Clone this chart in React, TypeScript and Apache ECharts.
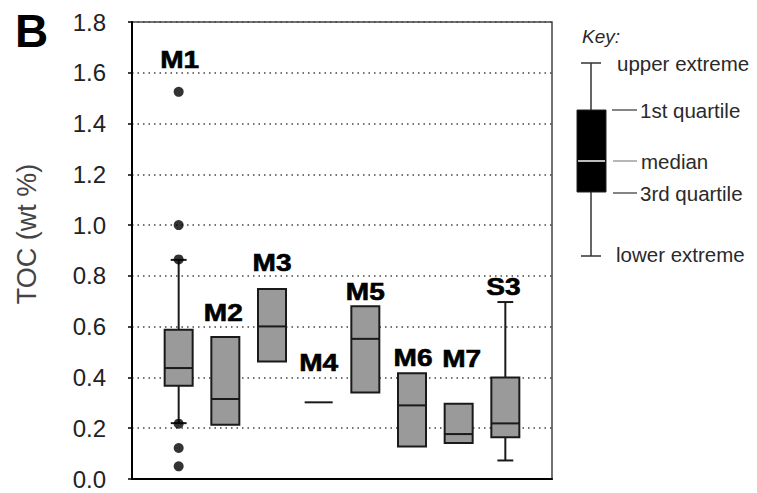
import React, { useEffect, useRef } from "react";
import * as echarts from "echarts";

// Sites along the horizontal axis
const sites = ["M1", "M2", "M3", "M4", "M5", "M6", "M7", "S3"];
// TOC statistics per site (wt %)
const lowerWhisker: (number | null)[] = [0.22, null, null, null, null, null, null, 0.073];
const boxBottom = [0.367, 0.214, 0.463, 0.302, 0.341, 0.128, 0.142, 0.164];
const medians = [0.437, 0.315, 0.601, 0.302, 0.552, 0.29, 0.177, 0.219];
const boxTop = [0.588, 0.559, 0.748, 0.302, 0.68, 0.417, 0.296, 0.4];
const upperWhisker: (number | null)[] = [0.863, null, null, null, null, null, null, 0.697];
// Individual outlying samples
const outlierSite = ["M1", "M1", "M1", "M1", "M1", "M1"];
const outlierToc = [1.525, 1.0, 0.865, 0.218, 0.122, 0.05];
// Y-axis ticks
const yTicks = [0, 0.2, 0.4, 0.6, 0.8, 1.0, 1.2, 1.4, 1.6, 1.8];

// Site label placement: pixel gap above each site's highest mark, and x nudge
const labelGap = [32, 24, 26, 39, 14, 15, 45, 15];
const labelDx = [1, -2, 0, 0, 0, 1, 3, -2];

export default function App() {
  const ref = useRef<HTMLDivElement>(null);

  useEffect(() => {
    if (!ref.current) return;
    const chart = echarts.init(ref.current, null, { renderer: "svg" });

    const boxData = sites.map((s, i) => {
      const outs = outlierToc.filter((_, k) => outlierSite[k] === s);
      const top = Math.max(boxTop[i], upperWhisker[i] ?? boxTop[i], ...outs);
      return [
        i + 1,
        lowerWhisker[i] ?? boxBottom[i],
        boxBottom[i],
        medians[i],
        boxTop[i],
        upperWhisker[i] ?? boxTop[i],
        top,
        i,
      ];
    });

    const outlierData = outlierToc.map((v, k) => [sites.indexOf(outlierSite[k]) + 1, v]);

    const renderItem = (params: any, api: any) => {
      const x = api.value(0);
      const idx = api.value(7);
      const wLo = api.coord([x, api.value(1)]);
      const bLo = api.coord([x, api.value(2)]);
      const med = api.coord([x, api.value(3)]);
      const bHi = api.coord([x, api.value(4)]);
      const wHi = api.coord([x, api.value(5)]);
      const topPt = api.coord([x, api.value(6)]);
      const slot = api.size([1, 0])[0];
      const bw = slot * 0.6;
      const cw = slot * 0.34;
      const cx = bLo[0];
      const stroke = { stroke: "#1a1a1a", lineWidth: 2 };
      const children: any[] = [];
      if (wHi[1] < bHi[1] - 0.5) {
        children.push({ type: "line", shape: { x1: cx, y1: bHi[1], x2: cx, y2: wHi[1] }, style: stroke });
        children.push({ type: "line", shape: { x1: cx - cw / 2, y1: wHi[1], x2: cx + cw / 2, y2: wHi[1] }, style: stroke });
      }
      if (wLo[1] > bLo[1] + 0.5) {
        children.push({ type: "line", shape: { x1: cx, y1: bLo[1], x2: cx, y2: wLo[1] }, style: stroke });
        children.push({ type: "line", shape: { x1: cx - cw / 2, y1: wLo[1], x2: cx + cw / 2, y2: wLo[1] }, style: stroke });
      }
      if (bLo[1] - bHi[1] > 0.5) {
        children.push({
          type: "rect",
          shape: { x: cx - bw / 2, y: bHi[1], width: bw, height: bLo[1] - bHi[1] },
          style: { fill: "#9a9a9a", stroke: "#1a1a1a", lineWidth: 2 },
        });
      }
      children.push({ type: "line", shape: { x1: cx - bw / 2, y1: med[1], x2: cx + bw / 2, y2: med[1] }, style: stroke });
      children.push({
        type: "text",
        x: cx + labelDx[idx],
        y: topPt[1] - labelGap[idx],
        scaleX: 1.22,
        style: {
          text: sites[idx],
          fontFamily: "Liberation Sans, Arial, sans-serif",
          fontWeight: "bold",
          fontSize: 23,
          fill: "#000",
          stroke: "#000",
          lineWidth: 0.6,
          align: "center",
          verticalAlign: "middle",
        },
      });
      return { type: "group", children };
    };

    const txt = { fontFamily: "Liberation Sans, Arial, sans-serif", fill: "#2a2a2a" };

    chart.setOption({
      animation: false,
      grid: {
        left: 132,
        top: 22,
        right: 205,
        bottom: 14,
        show: true,
        borderColor: "#444",
        borderWidth: 1.5,
        backgroundColor: "transparent",
      },
      xAxis: {
        type: "value",
        min: 0,
        max: sites.length + 1,
        axisLine: { show: true, lineStyle: { color: "#000", width: 2 } },
        axisTick: { show: false },
        axisLabel: { show: false },
        splitLine: { show: false },
      },
      yAxis: {
        type: "value",
        min: yTicks[0],
        max: yTicks[yTicks.length - 1],
        interval: 0.2,
        axisLine: { show: true, lineStyle: { color: "#000", width: 2 } },
        axisTick: { show: true, length: 4, lineStyle: { color: "#000", width: 1.5 } },
        axisLabel: {
          margin: 26,
          fontSize: 24,
          fontFamily: "Liberation Sans, Arial, sans-serif",
          color: "#222",
          formatter: (v: number) => v.toFixed(1),
        },
        splitLine: {
          show: true,
          lineStyle: { color: "#444", width: 1.5, type: [1.5, 4] },
        },
      },
      series: [
        {
          type: "custom",
          renderItem,
          data: boxData,
          encode: { x: 0, y: [1, 2, 3, 4, 5] },
          clip: false,
          z: 3,
        },
        {
          type: "scatter",
          data: outlierData,
          symbol: "circle",
          symbolSize: 10,
          itemStyle: { color: "#000" },
          z: 4,
        },
      ],
      graphic: [
        {
          type: "text",
          left: 15,
          top: 8,
          style: { text: "B", fontFamily: "Liberation Sans, Arial, sans-serif", fontWeight: "bold", fontSize: 46, fill: "#000" },
        },
        {
          type: "text",
          x: 27,
          y: 234,
          rotation: Math.PI / 2,
          style: { text: "TOC (wt %)", ...txt, fill: "#444", fontSize: 27, align: "center", verticalAlign: "middle" },
        },
        // Key
        {
          type: "text",
          x: 582,
          y: 36,
          style: { text: "Key:", ...txt, fontStyle: "italic", fontSize: 19, verticalAlign: "middle" },
        },
        { type: "line", shape: { x1: 591, y1: 63, x2: 591, y2: 256 }, style: { stroke: "#333", lineWidth: 1.5 } },
        { type: "line", shape: { x1: 581, y1: 63, x2: 601, y2: 63 }, style: { stroke: "#333", lineWidth: 1.5 } },
        { type: "line", shape: { x1: 581, y1: 256, x2: 601, y2: 256 }, style: { stroke: "#333", lineWidth: 1.5 } },
        { type: "rect", shape: { x: 577, y: 110, width: 29, height: 82 }, style: { fill: "#000", stroke: "#222", lineWidth: 1 } },
        { type: "line", shape: { x1: 578, y1: 161, x2: 605, y2: 161 }, style: { stroke: "#bbb", lineWidth: 2 } },
        { type: "line", shape: { x1: 612, y1: 110, x2: 637, y2: 110 }, style: { stroke: "#333", lineWidth: 1.2 } },
        { type: "line", shape: { x1: 613, y1: 161, x2: 637, y2: 161 }, style: { stroke: "#888", lineWidth: 1.2 } },
        { type: "line", shape: { x1: 613, y1: 193, x2: 637, y2: 193 }, style: { stroke: "#333", lineWidth: 1.2 } },
        { type: "text", x: 617, y: 63, style: { text: "upper extreme", ...txt, fontSize: 20.5, verticalAlign: "middle" } },
        { type: "text", x: 640, y: 110, style: { text: "1st quartile", ...txt, fontSize: 20.5, verticalAlign: "middle" } },
        { type: "text", x: 641, y: 161, style: { text: "median", ...txt, fontSize: 20.5, verticalAlign: "middle" } },
        { type: "text", x: 640, y: 193, style: { text: "3rd quartile", ...txt, fontSize: 20.5, verticalAlign: "middle" } },
        { type: "text", x: 616, y: 254, style: { text: "lower extreme", ...txt, fontSize: 20.5, verticalAlign: "middle" } },
      ],
    });

    return () => chart.dispose();
  }, []);

  return <div ref={ref} style={{ width: 757, height: 493, position: "absolute", left: 0, top: 0, background: "#fff" }} />;
}
